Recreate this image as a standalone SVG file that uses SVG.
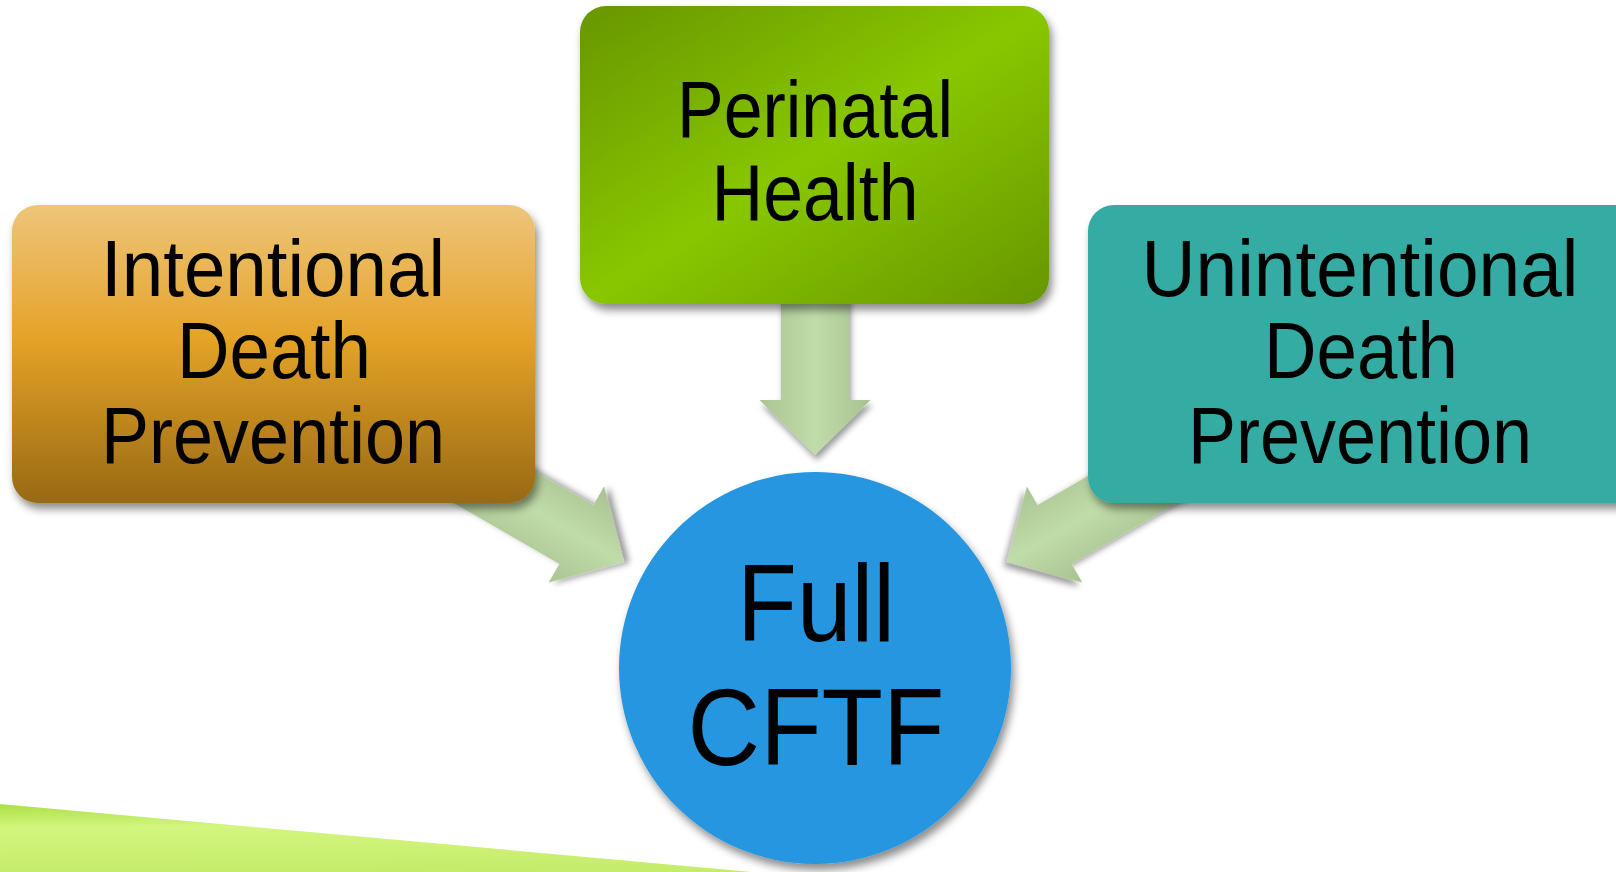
<svg xmlns="http://www.w3.org/2000/svg" width="1616" height="872" viewBox="0 0 1616 872">
  <defs>
    <style>
      .lbl { font-family: "Liberation Sans", Arial, sans-serif; fill: #000; text-anchor: middle; }
      .box { font-size: 79px; }
      .big { font-size: 110px; }
    </style>
    <filter id="sh" x="-10%" y="-10%" width="125%" height="130%">
      <feDropShadow dx="3" dy="6" stdDeviation="4" flood-color="#000" flood-opacity="0.45"/>
    </filter>
    <filter id="shA" x="-30%" y="-30%" width="160%" height="160%">
      <feDropShadow dx="2" dy="5" stdDeviation="3" flood-color="#000" flood-opacity="0.4"/>
    </filter>
    <linearGradient id="gOrange" x1="0" y1="0" x2="0" y2="1">
      <stop offset="0" stop-color="#eec57a"/>
      <stop offset="0.45" stop-color="#e4a328"/>
      <stop offset="1" stop-color="#986914"/>
    </linearGradient>
    <linearGradient id="gGreen" x1="0" y1="0" x2="1" y2="1">
      <stop offset="0" stop-color="#689600"/>
      <stop offset="0.5" stop-color="#88c700"/>
      <stop offset="1" stop-color="#679600"/>
    </linearGradient>
    <linearGradient id="gArrow" x1="0" y1="0" x2="1" y2="0">
      <stop offset="0" stop-color="#aac493"/>
      <stop offset="0.5" stop-color="#c0dca8"/>
      <stop offset="1" stop-color="#a8c191"/>
    </linearGradient>
    <linearGradient id="gBand" x1="0" y1="0" x2="0.08" y2="1">
      <stop offset="0" stop-color="#ace046"/>
      <stop offset="0.35" stop-color="#d2f67e"/>
      <stop offset="1" stop-color="#c6ec6c"/>
    </linearGradient>
  </defs>

  <rect width="1616" height="872" fill="#ffffff"/>

  <polygon points="0,804 752,872 0,872" fill="url(#gBand)"/>

  <g id="connectors">
    <path transform="translate(815,455)" filter="url(#shA)" fill="url(#gArrow)"
          d="M-34,-160 L34,-160 L34,-55 L55.5,-55 L0,0 L-55.5,-55 L-34,-55 Z"/>
    <path transform="translate(624,562) rotate(-60)" filter="url(#shA)" fill="url(#gArrow)"
          d="M-34,-200 L34,-200 L34,-55 L55.5,-55 L0,0 L-55.5,-55 L-34,-55 Z"/>
    <path transform="translate(1007,562) rotate(60)" filter="url(#shA)" fill="url(#gArrow)"
          d="M-34,-200 L34,-200 L34,-55 L55.5,-55 L0,0 L-55.5,-55 L-34,-55 Z"/>
  </g>

  <g id="node-intentional">
    <rect x="12" y="205" width="523" height="298" rx="26" fill="url(#gOrange)" filter="url(#sh)"/>
    <text class="lbl box" x="273" y="296" textLength="344" lengthAdjust="spacingAndGlyphs">Intentional</text>
    <text class="lbl box" x="274" y="378" textLength="194" lengthAdjust="spacingAndGlyphs">Death</text>
    <text class="lbl box" x="273" y="463" textLength="344" lengthAdjust="spacingAndGlyphs">Prevention</text>
  </g>

  <g id="node-perinatal">
    <rect x="580" y="6" width="469" height="298" rx="26" fill="url(#gGreen)" filter="url(#sh)"/>
    <text class="lbl box" x="815" y="137" textLength="276" lengthAdjust="spacingAndGlyphs">Perinatal</text>
    <text class="lbl box" x="815" y="220" textLength="207" lengthAdjust="spacingAndGlyphs">Health</text>
  </g>

  <g id="node-unintentional">
    <rect x="1088" y="205" width="560" height="298" rx="26" fill="#36aca3" filter="url(#sh)"/>
    <text class="lbl box" x="1360" y="296" textLength="437" lengthAdjust="spacingAndGlyphs">Unintentional</text>
    <text class="lbl box" x="1361" y="378" textLength="194" lengthAdjust="spacingAndGlyphs">Death</text>
    <text class="lbl box" x="1360" y="463" textLength="344" lengthAdjust="spacingAndGlyphs">Prevention</text>
  </g>

  <g id="node-fullcftf">
    <circle cx="815" cy="668" r="196" fill="#2596e0" filter="url(#sh)"/>
    <text class="lbl big" x="816" y="641" textLength="158" lengthAdjust="spacingAndGlyphs">Full</text>
    <text class="lbl big" x="816" y="765" textLength="257" lengthAdjust="spacingAndGlyphs">CFTF</text>
  </g>
</svg>
